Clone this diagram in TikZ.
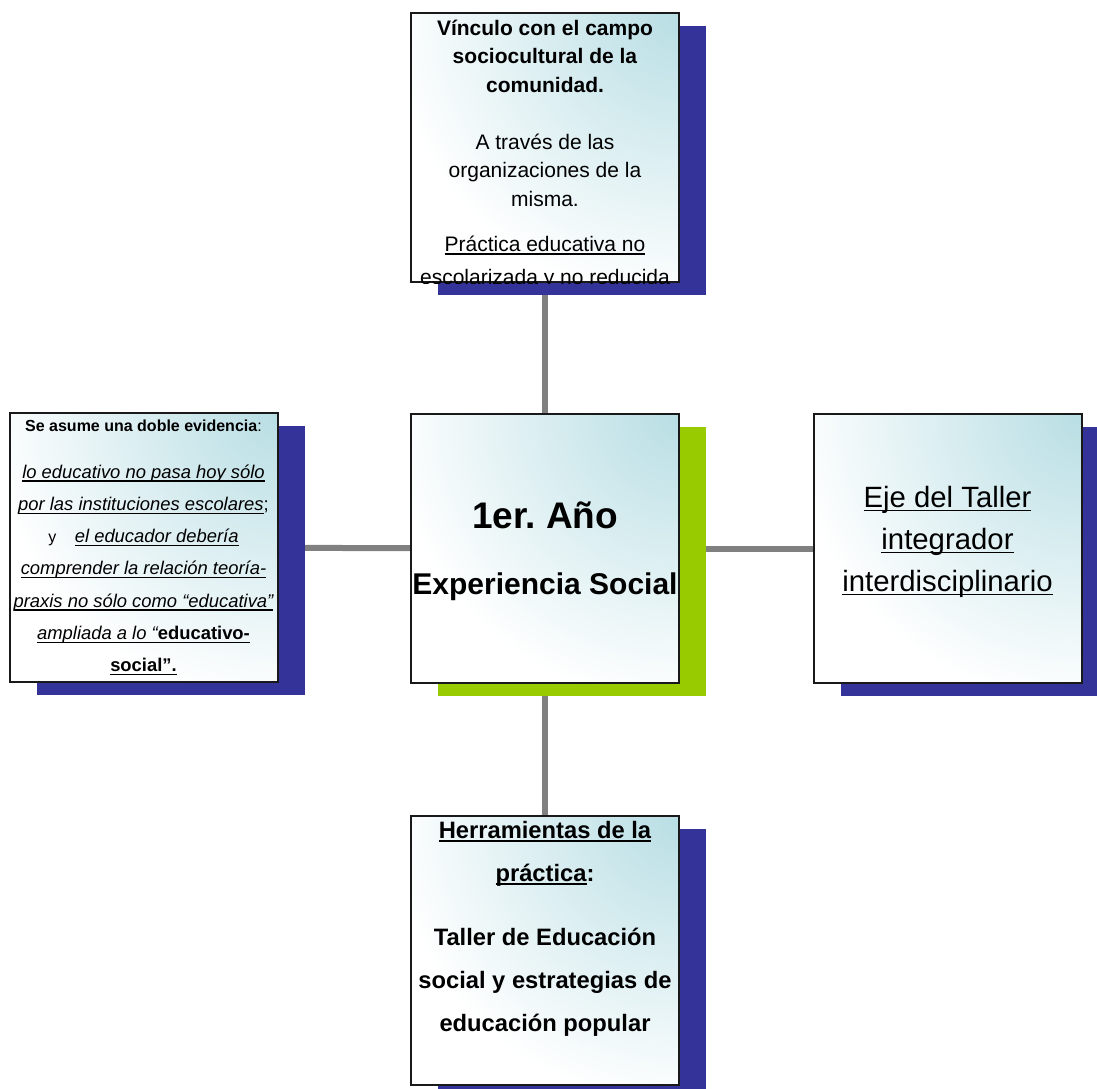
\documentclass[tikz,border=0pt]{standalone}
\usepackage{fontspec}
\setmainfont{Liberation Sans}
\usetikzlibrary{shadows,backgrounds}
\definecolor{shadowblue}{RGB}{51,51,153}
\definecolor{hubgreen}{RGB}{153,204,0}
\definecolor{boxteal}{RGB}{184,222,228}
\definecolor{linkgray}{RGB}{128,128,128}
% underline at a fixed distance below the baseline
\newcommand\uln[1]{\leavevmode\vtop{\setbox0\hbox{#1}\dp0=0pt\box0\kern1.6pt\hrule height 0.9pt}}
\begin{document}
\begin{tikzpicture}[x=0.75pt,y=-0.75pt,
  card/.style={draw=black!90, fill=white, line width=1.5pt, minimum width=201pt, minimum height=201.75pt,
    inner sep=0pt,
    path picture={\shade[inner color=boxteal,outer color=white]
      (path picture bounding box.north east) circle (217pt);},
    drop shadow={shadow xshift=20.25pt, shadow yshift=-9.75pt, fill=#1, opacity=1}},
  card/.default=shadowblue,
  cardtext/.style={inner sep=0pt, align=center},
  link/.style={draw=linkgray, line width=4.5pt}]
  \useasboundingbox (0,0) rectangle (1097,1089);

  % boxes
  \node[card=hubgreen] (hub) at (545,548.5) {};
  \node[card] (top) at (545,147.5) {};
  \node[card] (left) at (143.5,547.5) {};
  \node[card] (right) at (947.5,548.5) {};
  \node[card] (bottom) at (545,950) {};

  % texts
  \node[cardtext, font=\bfseries\fontsize{22.5}{50}\selectfont] (hubtext)
    at ([yshift=-2pt]hub.center) {{\fontsize{27.75}{50}\selectfont 1er.\ Año}\\Experiencia Social};

  \begin{scope}
    \clip (top.south west) rectangle (top.north east);
    \node[cardtext, anchor=north, font=\fontsize{15.75}{21.4}\selectfont] (toptext)
      at ([yshift=-5.5pt]top.north) {\textbf{Vínculo con el campo}\\\textbf{sociocultural de la}\\
      \textbf{comunidad.}\\[21.4pt]
      A través de las\\organizaciones de la\\misma.\\[12.4pt]
      \uln{Práctica educativa no}\\[3.5pt]
      \uln{escolarizada y no reducida}};
  \end{scope}

  \node[cardtext, font=\fontsize{13.8}{24.2}\selectfont] (lefttext) at (left.center)
    {{\fontsize{12}{24.2}\selectfont\textbf{Se asume una doble evidencia}:}\\[10.8pt]
     \uln{\itshape lo educativo no pasa hoy sólo}\\
     \uln{\itshape por las instituciones escolares};\\
     {\fontsize{12}{24.2}\selectfont y}\quad\uln{\itshape el educador debería}\\
     \uln{\itshape comprender la relación teoría-}\\
     \uln{\itshape praxis no sólo como “educativa”}\\
     \uln{\itshape ampliada a lo “\upshape\bfseries educativo-}\\
     \uln{\bfseries social”.}};

  \node[cardtext, font=\fontsize{22}{31.5}\selectfont] (righttext) at ([yshift=6pt]right.center)
    {\uln{Eje del Taller}\\\uln{integrador}\\\uln{interdisciplinario}};

  \node[cardtext, anchor=north, font=\bfseries\fontsize{17.8}{32.25}\selectfont] (bottomtext)
    at ([yshift=-4.7pt]bottom.north)
    {\uln{Herramientas de la}\\\uln{práctica}:\\[15.75pt]
     Taller de Educación\\social y estrategias de\\educación popular};

  % connectors
  \begin{pgfonlayer}{background}
    \draw[link] (hub) -- (top);
    \draw[link] (hub) -- (left);
    \draw[link] (hub) -- (right);
    \draw[link] (hub) -- (bottom);
  \end{pgfonlayer}
\end{tikzpicture}
\end{document}
